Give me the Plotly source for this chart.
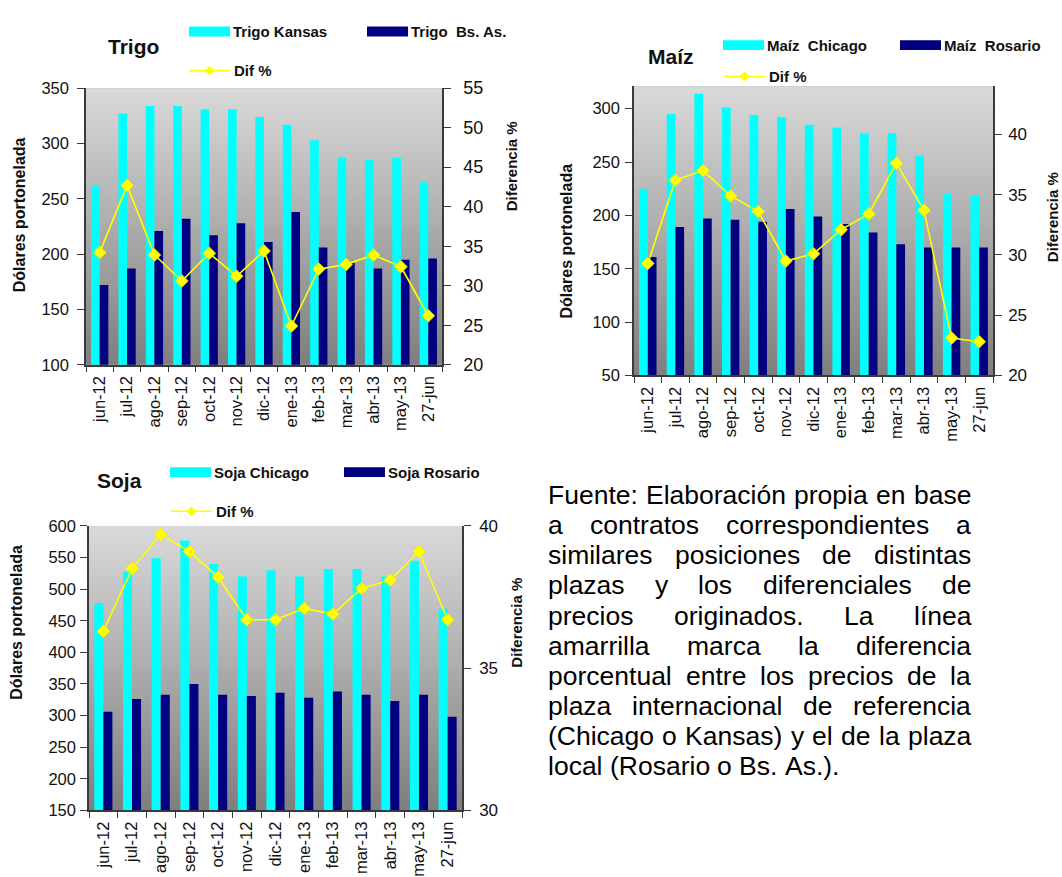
import plotly.graph_objects as go

# ---------------- data ----------------
categories = ["jun-12", "jul-12", "ago-12", "sep-12", "oct-12", "nov-12", "dic-12",
              "ene-13", "feb-13", "mar-13", "abr-13", "may-13", "27-jun"]

trigo_kansas = [262, 327, 334, 334, 331, 331, 324, 317, 303, 287, 285, 287, 265]
trigo_bsas = [172, 187, 221, 232, 217, 228, 211, 238, 206, 192, 187, 195, 196]
trigo_dif = [34.2, 42.7, 33.9, 30.6, 34.1, 31.2, 34.4, 24.9, 32.1, 32.7, 33.9, 32.4, 26.2]

maiz_chicago = [225, 295, 314, 301, 294, 292, 285, 282, 277, 277, 256, 221, 219]
maiz_rosario = [161, 189, 197, 196, 194, 206, 199, 192, 184, 173, 170, 170, 170]
maiz_dif = [29.3, 36.2, 37.0, 34.9, 33.6, 29.5, 30.1, 32.1, 33.4, 37.6, 33.7, 23.1, 22.8]

soja_chicago = [478, 527, 549, 577, 540, 520, 530, 520, 532, 532, 520, 545, 469]
soja_rosario = [306, 326, 333, 350, 333, 331, 336, 328, 338, 333, 323, 333, 298]
soja_dif = [36.3, 38.5, 39.7, 39.1, 38.2, 36.7, 36.7, 37.1, 36.9, 37.8, 38.1, 39.1, 36.7]

note_lines = [
    "Fuente: Elaboración propia en base",
    "a contratos correspondientes a",
    "similares posiciones de distintas",
    "plazas y los diferenciales de",
    "precios originados. La línea",
    "amarrilla marca la diferencia",
    "porcentual entre los precios de la",
    "plaza internacional de referencia",
    "(Chicago o Kansas) y el de la plaza",
    "local (Rosario o Bs. As.).",
]

# ---------------- helpers ----------------
W, H = 1062, 877
FONT = "Liberation Sans, Arial, Helvetica, sans-serif"
CYAN = "#00ffff"
NAVY = "#000080"
YELLOW = "#ffff00"
AXC = "#3a3a3a"


def px(x):
    return x / W


def py(y):
    return 1 - y / H


fig = go.Figure()

panels = [
    dict(title="Trigo", na="Trigo Kansas", nb="Trigo\u00a0 Bs. As.", a=trigo_kansas, b=trigo_bsas, d=trigo_dif,
         xa="x", ya="y", yb="y2", xk="xaxis", yk="yaxis", yk2="yaxis2",
         xdom=(86, 442), ydom=(80, 363), lr=[100, 350], l0=100, ldt=50, rr=[20, 55], r0=20, rdt=5,
         lfs=16.5, rfs=18, lstand=5, rstand=9,
         title_xy=(133, 37), leg1=(189, 22), leg2=(367, 22), leg3=(189, 62),
         ltitle=(19, 210), rtitle=(511, 160)),
    dict(title="Maíz", na="Maíz\u00a0 Chicago", nb="Maíz\u00a0 Rosario", a=maiz_chicago, b=maiz_rosario, d=maiz_dif,
         xa="x2", ya="y3", yb="y4", xk="xaxis2", yk="yaxis3", yk2="yaxis4",
         xdom=(634, 993), ydom=(78, 374), lr=[50, 321], l0=50, ldt=50, rr=[20, 44], r0=20, rdt=5,
         lfs=16.5, rfs=17, lstand=2, rstand=3,
         title_xy=(671, 48), leg1=(723, 36), leg2=(900, 36), leg3=(724, 68),
         ltitle=(567, 237), rtitle=(1052, 212)),
    dict(title="Soja", na="Soja Chicago", nb="Soja Rosario", a=soja_chicago, b=soja_rosario, d=soja_dif,
         xa="x3", ya="y5", yb="y6", xk="xaxis3", yk="yaxis5", yk2="yaxis6",
         xdom=(89, 462), ydom=(528, 819), lr=[150, 600], l0=150, ldt=50, rr=[30, 40], r0=30, rdt=5,
         lfs=16.5, rfs=17, lstand=1, rstand=5,
         title_xy=(119, 481), leg1=(170, 473), leg2=(344, 473), leg3=(171, 513),
         ltitle=(17, 627), rtitle=(517, 627)),
]

shapes = []
annotations = []
layout_axes = {}

N_STRIPES = 90
TOP = (218, 218, 218)
BOT = (126, 126, 126)

for p in panels:
    fig.add_trace(go.Bar(x=categories, y=p["a"], name=p["na"], marker=dict(color=CYAN, line=dict(width=0)),
                         xaxis=p["xa"], yaxis=p["ya"], showlegend=False))
    fig.add_trace(go.Bar(x=categories, y=p["b"], name=p["nb"], marker=dict(color=NAVY, line=dict(width=0)),
                         xaxis=p["xa"], yaxis=p["ya"], showlegend=False))
    fig.add_trace(go.Scatter(x=categories, y=p["d"], name="Dif %", mode="lines+markers",
                             line=dict(color=YELLOW, width=1.6),
                             marker=dict(symbol="diamond", size=10, color=YELLOW,
                                         line=dict(color="#e6e600", width=0.5)),
                             xaxis=p["xa"], yaxis=p["yb"], showlegend=False))

    layout_axes[p["xk"]] = dict(
        domain=[px(p["xdom"][0]), px(p["xdom"][1])], anchor=p["ya"], type="category",
        range=[-0.5, len(categories) - 0.5], showline=True, linecolor=AXC, linewidth=1.5,
        ticks="outside", tickson="boundaries", ticklen=6, tickcolor=AXC, tickwidth=1.3,
        tickangle=-90, tickfont=dict(family=FONT, size=16.5, color="#111"),
        showgrid=False, zeroline=False, ticklabelstandoff=3)
    layout_axes[p["yk"]] = dict(
        domain=[py(p["ydom"][1]), py(p["ydom"][0])], anchor=p["xa"], range=p["lr"],
        tick0=p["l0"], dtick=p["ldt"], showline=True, linecolor=AXC, linewidth=1.5,
        ticks="outside", ticklen=7, tickcolor=AXC, tickwidth=1.3, showgrid=False, zeroline=False,
        tickfont=dict(family=FONT, size=p["lfs"], color="#111"), ticklabelstandoff=p["lstand"])
    layout_axes[p["yk2"]] = dict(
        overlaying=p["ya"], side="right", anchor=p["xa"], range=p["rr"],
        tick0=p["r0"], dtick=p["rdt"], showline=True, linecolor=AXC, linewidth=1.5,
        ticks="outside", ticklen=7, tickcolor=AXC, tickwidth=1.3, showgrid=False, zeroline=False,
        tickfont=dict(family=FONT, size=p["rfs"], color="#111"), ticklabelstandoff=p["rstand"])

    # gradient plot background
    for k in range(N_STRIPES):
        t = (k + 0.5) / N_STRIPES
        c = tuple(int(round(BOT[i] + (TOP[i] - BOT[i]) * t)) for i in range(3))
        shapes.append(dict(type="rect", xref=p["xa"] + " domain", yref=p["ya"] + " domain",
                           x0=0, x1=1, y0=k / N_STRIPES, y1=min(1, (k + 1.3) / N_STRIPES),
                           fillcolor="rgb(%d,%d,%d)" % c, line=dict(width=0), layer="below"))

    # title
    tx, ty = p["title_xy"]
    annotations.append(dict(text="<b>%s</b>" % p["title"], x=px(tx), y=py(ty), xref="paper", yref="paper",
                            xanchor="center", yanchor="middle", showarrow=False,
                            font=dict(family=FONT, size=21, color="#111")))
    # legend: bar swatches
    for (lx, ly), col, nm in [(p["leg1"], CYAN, p["na"]), (p["leg2"], NAVY, p["nb"])]:
        shapes.append(dict(type="rect", xref="paper", yref="paper", x0=px(lx), x1=px(lx + 41),
                           y0=py(ly + 5), y1=py(ly - 5), fillcolor=col, line=dict(width=0)))
        annotations.append(dict(text="<b>%s</b>" % nm, x=px(lx + 43), y=py(ly), xref="paper", yref="paper",
                                xanchor="left", yanchor="middle", showarrow=False, borderpad=0,
                                font=dict(family=FONT, size=15, color="#111")))
    # legend: line
    lx, ly = p["leg3"]
    shapes.append(dict(type="line", xref="paper", yref="paper", x0=px(lx), x1=px(lx + 41),
                       y0=py(ly), y1=py(ly), line=dict(color=YELLOW, width=1.6)))
    cx = lx + 20.5
    shapes.append(dict(type="path", xref="paper", yref="paper",
                       path="M %f,%f L %f,%f L %f,%f L %f,%f Z" % (px(cx), py(ly - 5), px(cx + 5), py(ly),
                                                                 px(cx), py(ly + 5), px(cx - 5), py(ly)),
                       fillcolor=YELLOW, line=dict(width=0)))
    annotations.append(dict(text="<b>Dif %</b>", x=px(lx + 44), y=py(ly), xref="paper", yref="paper",
                            xanchor="left", yanchor="middle", showarrow=False, borderpad=0,
                            font=dict(family=FONT, size=15, color="#111")))
    # axis titles
    ax, ay = p["ltitle"]
    annotations.append(dict(text="<b>Dólares portonelada</b>", x=px(ax), y=py(ay), xref="paper", yref="paper",
                            xanchor="center", yanchor="middle", textangle=-90, showarrow=False,
                            font=dict(family=FONT, size=16, color="#111")))
    ax, ay = p["rtitle"]
    annotations.append(dict(text="<b>Diferencia %</b>", x=px(ax), y=py(ay), xref="paper", yref="paper",
                            xanchor="center", yanchor="middle", textangle=-90, showarrow=False,
                            font=dict(family=FONT, size=15, color="#111")))

# ---------------- justified note text ----------------
ARIAL = {}
for ch in "abdeghnopqu0123456789áóé":
    ARIAL[ch] = 556
for ch in "cksvxyz":
    ARIAL[ch] = 500
for ch in "ft í.:,":
    ARIAL[ch] = 278
for ch in "ijl":
    ARIAL[ch] = 222
ARIAL.update({"m": 833, "r": 333, "w": 722, "(": 333, ")": 333, "%": 889,
              "A": 667, "B": 667, "C": 722, "E": 667, "F": 611, "K": 667, "L": 556, "R": 722})

NOTE_FS = 26.5
NOTE_LEFT, NOTE_RIGHT = 547, 970
NOTE_Y0, NOTE_DY = 496.5, 30.8


def text_w(s):
    return sum(ARIAL.get(ch, 556) for ch in s) * NOTE_FS / 1000.0


for i, line in enumerate(note_lines):
    words = line.split(" ")
    widths = [text_w(wd) for wd in words]
    if i == len(note_lines) - 1 or len(words) == 1:
        gap = ARIAL[" "] * NOTE_FS / 1000.0
    else:
        gap = (NOTE_RIGHT - NOTE_LEFT - sum(widths)) / (len(words) - 1)
    xcur = NOTE_LEFT
    yc = NOTE_Y0 + NOTE_DY * i
    for wd, ww in zip(words, widths):
        annotations.append(dict(text=wd, x=px(xcur), y=py(yc), xref="paper", yref="paper",
                                xanchor="left", yanchor="middle", showarrow=False, borderpad=0,
                                font=dict(family=FONT, size=NOTE_FS, color="#000")))
        xcur += ww + gap

fig.update_layout(
    width=W, height=H, margin=dict(l=0, r=0, t=0, b=0),
    paper_bgcolor="white", plot_bgcolor="#aaaaaa",
    barmode="group", bargap=0.37, bargroupgap=0.0,
    showlegend=False, shapes=shapes, annotations=annotations,
    font=dict(family=FONT, color="#111"),
    **layout_axes,
)

fig.write_html("out.html", config={"displayModeBar": False},
               post_script="document.body.style.margin='0';document.body.style.overflow='hidden';")
